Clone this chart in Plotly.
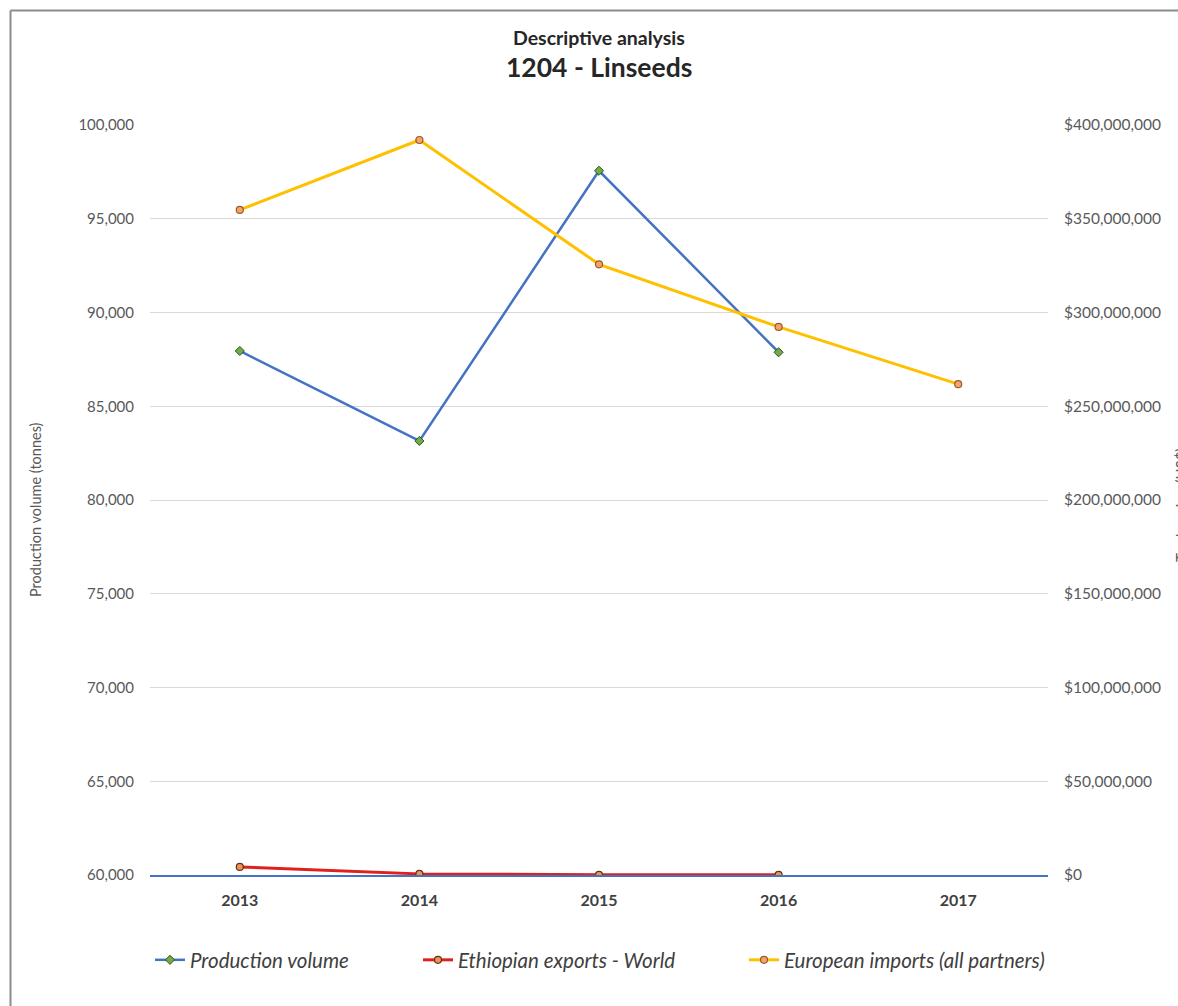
import plotly.graph_objects as go

# Reporting years on the category axis
years = ["2013", "2014", "2015", "2016", "2017"]

# Production volume in tonnes (left axis)
production_volume = [87950, 83150, 97560, 87880, None]

# Trade values in US$ (right axis)
ethiopian_exports = [4300000, 600000, 100000, 100000, None]
european_imports = [354700000, 392000000, 325700000, 292300000, 261800000]

W, H = 1178, 1006
ML, MR, MT, MB = 150, 130, 125, 131
PW = W - ML - MR
PH = H - MT - MB


def px_x(px):
    return (px - ML) / PW


def px_y(py):
    return (H - MB - py) / PH


FONT = "Lato"
GRAY = "#595959"

fig = go.Figure()

fig.add_trace(go.Scatter(
    x=years, y=production_volume, name="Production volume",
    mode="lines+markers",
    line=dict(color="#4472C4", width=2.5),
    marker=dict(symbol="diamond", size=7, color="#70AD47",
                line=dict(color="#2F4F1F", width=1)),
    legend="legend",
))

fig.add_trace(go.Scatter(
    x=years, y=ethiopian_exports, name="Ethiopian exports - World",
    mode="lines+markers", yaxis="y2",
    line=dict(color="#E0201B", width=3),
    marker=dict(symbol="circle", size=7, color="#E8955A",
                line=dict(color="#6B2E12", width=1.2)),
    legend="legend2",
))

fig.add_trace(go.Scatter(
    x=years, y=european_imports, name="European imports (all partners)",
    mode="lines+markers", yaxis="y2",
    line=dict(color="#FFC000", width=3),
    marker=dict(symbol="circle", size=7, color="#F4A466",
                line=dict(color="#9C5A2A", width=1.2)),
    legend="legend3",
))

legend_common = dict(
    orientation="h", xanchor="left", yanchor="middle",
    y=px_y(960), bgcolor="rgba(0,0,0,0)", borderwidth=0,
    font=dict(family=FONT, size=20.5, color="#404040", style="italic"),
    itemwidth=30,
)

fig.update_layout(
    width=W, height=H,
    margin=dict(l=ML, r=MR, t=MT, b=MB, pad=0),
    paper_bgcolor="white", plot_bgcolor="white",
    font=dict(family=FONT, color=GRAY),
    showlegend=True,
    legend=dict(x=px_x(150), **legend_common),
    legend2=dict(x=px_x(418), **legend_common),
    legend3=dict(x=px_x(744), **legend_common),
    xaxis=dict(
        type="category", range=[-0.5, 4.5],
        showline=True, linecolor="#4472C4", linewidth=2,
        showgrid=False, ticks="", zeroline=False,
        tickfont=dict(family=FONT, size=16, color="#404040", weight="bold"),
        ticklabelstandoff=10,
    ),
    yaxis=dict(
        range=[60000, 100000], dtick=5000, tickformat=",d",
        showgrid=True, gridcolor="#D9D9D9", gridwidth=1,
        zeroline=False, showline=False, ticks="",
        tickfont=dict(family=FONT, size=15, color=GRAY),
        ticklabelstandoff=15,
    ),
    yaxis2=dict(
        overlaying="y", side="right",
        range=[0, 400000000], dtick=50000000,
        tickprefix="$", tickformat=",d",
        showgrid=False, zeroline=False, showline=False, ticks="",
        tickfont=dict(family=FONT, size=15.5, color=GRAY),
        ticklabelstandoff=15,
    ),
    annotations=[
        dict(text="<b>Descriptive analysis</b>", xref="paper", yref="paper",
             x=0.5, y=px_y(37), xanchor="center", yanchor="middle",
             showarrow=False, font=dict(family=FONT, size=19.5, color="#262626")),
        dict(text="<b>1204 - Linseeds</b>", xref="paper", yref="paper",
             x=0.5, y=px_y(67), xanchor="center", yanchor="middle",
             showarrow=False, font=dict(family=FONT, size=26.5, color="#262626")),
        dict(text="Production volume (tonnes)", xref="paper", yref="paper",
             x=px_x(35), y=px_y(510), xanchor="center", yanchor="middle",
             textangle=-90, showarrow=False,
             font=dict(family=FONT, size=14.5, color=GRAY)),
        dict(text="Trade value (US$)", xref="paper", yref="paper",
             x=px_x(1181), y=px_y(505), xanchor="center", yanchor="middle",
             textangle=-90, showarrow=False,
             font=dict(family=FONT, size=15, color=GRAY)),
    ],
    shapes=[
        # chart frame, top and left edges
        dict(type="line", xref="paper", yref="paper",
             x0=px_x(10.5), y0=px_y(10.5), x1=px_x(1300), y1=px_y(10.5),
             line=dict(color="#8C8C8C", width=2)),
        dict(type="line", xref="paper", yref="paper",
             x0=px_x(10.5), y0=px_y(10.5), x1=px_x(10.5), y1=px_y(1100),
             line=dict(color="#8C8C8C", width=2)),
    ],
)

fig.write_html("out.html")
